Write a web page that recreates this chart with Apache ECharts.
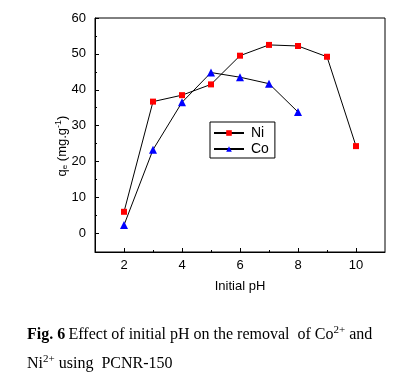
<!DOCTYPE html>
<html>
<head>
<meta charset="utf-8">
<script src="https://cdn.jsdelivr.net/npm/echarts@6/dist/echarts.min.js"></script>
<style>html,body{margin:0;padding:0;background:#fff;}#c{width:411px;height:384px;}</style>
</head>
<body>
<div id="c"></div>
<script>
const phValues = [2, 3, 4, 5, 6, 7, 8, 9, 10];
const niValues = [6.0, 36.7, 38.5, 41.5, 49.5, 52.5, 52.2, 49.2, 24.3];
const coPh = [2, 3, 4, 5, 6, 7, 8];
const coValues = [2.3, 23.3, 36.5, 44.8, 43.5, 41.7, 33.8];
const xTickLabels = [2, 4, 6, 8, 10];
const xMinorTicks = [3, 5, 7, 9];
const yTickLabels = [0, 10, 20, 30, 40, 50, 60];
const yMinorTicks = [5, 15, 25, 35, 45, 55];

const chart = echarts.init(document.getElementById('c'));
const font = 'Liberation Sans, Arial, sans-serif';
const serif = 'Liberation Serif, Times New Roman, serif';

chart.setOption({
  animation: false,
  backgroundColor: '#fff',
  grid: {left: 95, right: 26, top: 18, bottom: 132, show: true, borderColor: '#000', borderWidth: 1, backgroundColor: 'transparent'},
  legend: {
    orient: 'vertical', left: 210, top: 122, padding: [4, 6, 2, 3],
    itemGap: 2, itemWidth: 30, itemHeight: 7,
    borderColor: '#000', borderWidth: 1,
    textStyle: {fontFamily: font, fontSize: 14, color: '#000', padding: [0, 0, 0, 2]},
    data: [{name: 'Ni'}, {name: 'Co'}]
  },
  xAxis: [{
    type: 'value', min: 1, max: 11, position: 'bottom',
    name: 'Initial pH', nameLocation: 'middle', nameGap: 28,
    nameTextStyle: {fontFamily: font, fontSize: 13, color: '#000'},
    axisLine: {show: true, onZero: false, lineStyle: {color: '#000', width: 1}},
    axisTick: {show: true, inside: true, length: 4, customValues: xTickLabels, lineStyle: {color: '#000'}},
    axisLabel: {customValues: xTickLabels, fontFamily: font, fontSize: 13, color: '#000', margin: 7},
    splitLine: {show: false}
  }, {
    type: 'value', min: 1, max: 11, position: 'bottom',
    axisLine: {show: false, onZero: false},
    axisTick: {show: true, inside: true, length: 2, customValues: xMinorTicks, lineStyle: {color: '#000'}},
    axisLabel: {show: false},
    splitLine: {show: false}
  }],
  yAxis: [{
    type: 'value', min: -5.2, max: 60, position: 'left',
    axisLine: {show: true, onZero: false, lineStyle: {color: '#000', width: 1}},
    axisTick: {show: true, inside: true, length: 4, customValues: yTickLabels, lineStyle: {color: '#000'}},
    axisLabel: {customValues: yTickLabels, fontFamily: font, fontSize: 13, color: '#000', margin: 9},
    splitLine: {show: false}
  }, {
    type: 'value', min: -5.2, max: 60, position: 'left',
    axisLine: {show: false, onZero: false},
    axisTick: {show: true, inside: true, length: 2, customValues: yMinorTicks, lineStyle: {color: '#000'}},
    axisLabel: {show: false},
    splitLine: {show: false}
  }],
  series: [{
    name: 'Ni', type: 'line',
    data: phValues.map((x, i) => [x, niValues[i]]),
    symbol: 'rect', symbolSize: 6, showAllSymbol: true,
    itemStyle: {color: '#ff0000'},
    lineStyle: {color: '#000', width: 1},
    emphasis: {disabled: true}
  }, {
    name: 'Co', type: 'line',
    data: coPh.map((x, i) => [x, coValues[i]]),
    symbol: 'triangle', symbolSize: 8, showAllSymbol: true,
    itemStyle: {color: '#0000ff'},
    lineStyle: {color: '#000', width: 1},
    emphasis: {disabled: true}
  }],
  graphic: [{
    type: 'text', x: 62, y: 146, rotation: Math.PI / 2,
    style: {
      text: '{n|q}{sub|e}{n| (mg.g}{sup|-1}{n|)}',
      align: 'center', verticalAlign: 'middle',
      rich: {
        n: {fontFamily: font, fontSize: 13, color: '#000'},
        sub: {fontFamily: font, fontSize: 8, color: '#000', padding: [6, 0, 0, 0]},
        sup: {fontFamily: font, fontSize: 9, color: '#000', padding: [0, 0, 7, 0]}
      }
    }
  }, {
    type: 'text', left: 27, top: 325,
    style: {
      text: '{b|Fig. 6} {t|Effect of initial pH on the removal  of Co}{sup|2+}{t| and}\n{t|Ni}{sup|2+}{t| using  PCNR-150}',
      rich: {
        b: {fontFamily: serif, fontSize: 16, fontWeight: 'bold', color: '#000', lineHeight: 29},
        t: {fontFamily: serif, fontSize: 16, color: '#000', lineHeight: 29},
        sup: {fontFamily: serif, fontSize: 11, color: '#000', padding: [0, 0, 9, 0], lineHeight: 29}
      }
    }
  }]
});
</script>
</body>
</html>
